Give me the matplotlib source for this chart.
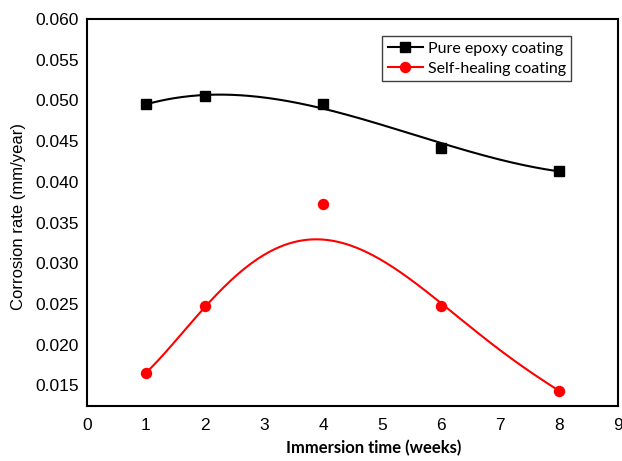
import numpy as np
import matplotlib
matplotlib.use("Agg")
import matplotlib.pyplot as plt
from matplotlib.lines import Line2D

# Data
weeks = [1, 2, 4, 6, 8]
pure_epoxy = [0.0496, 0.0506, 0.0496, 0.0442, 0.0413]
self_healing = [0.0165, 0.0248, 0.0373, 0.0248, 0.0143]

# Trend-curve values (smooth fitted lines)
trend_x = [1, 2, 3, 4, 5, 6, 7, 8]
pure_trend = [0.0496, 0.0505, 0.0503, 0.0492, 0.0471, 0.0445, 0.0428, 0.0413]
self_trend = [0.0165, 0.0248, 0.0307, 0.0331, 0.0305, 0.0248, 0.0195, 0.0143]

x_ticks = list(range(0, 10))
y_ticks = [0.015, 0.020, 0.025, 0.030, 0.035, 0.040, 0.045, 0.050, 0.055, 0.060]

fig = plt.figure(figsize=(6.22, 4.61), dpi=100)
ax = fig.add_axes([87/622, 1 - 405.7/461, (618-87)/622, (405.7-19)/461])

xs = np.linspace(1, 8, 300)
for tr, col, deg in [(pure_trend, "black", 3), (self_trend, "#ff0000", 5)]:
    coef = np.polyfit(trend_x, tr, deg)
    ax.plot(xs, np.polyval(coef, xs), color=col, lw=1.5, zorder=2)

ax.plot(weeks, pure_epoxy, ls="none", marker="s", ms=6.8, color="black", zorder=3)
ax.plot(weeks, self_healing, ls="none", marker="o", ms=7.2, color="#ff0000", zorder=3)

ax.set_xlim(0, 9)
ax.set_ylim(0.0125, 0.0600)
ax.set_xticks(x_ticks)
ax.set_xticklabels([str(t) for t in x_ticks])
ax.set_yticks(y_ticks)
ax.set_yticklabels(["%.3f" % v for v in y_ticks])
ax.tick_params(axis="both", length=0, labelsize=12.5)
ax.tick_params(axis="y", pad=6)
ax.tick_params(axis="x", pad=9)
for lab in ax.get_xticklabels() + ax.get_yticklabels():
    lab.set_fontfamily("Liberation Sans")

for s in ax.spines.values():
    s.set_linewidth(1.5)
    s.set_color("black")

ax.set_ylabel("Corrosion rate (mm/year)", fontsize=12, family="Liberation Sans")
ax.yaxis.set_label_coords(-0.115, 0.49)
ax.set_xlabel("Immersion time (weeks)", fontsize=12, family="Lato", fontweight="bold")
ax.xaxis.set_label_coords(0.539, -0.088)

handles = [
    Line2D([], [], color="black", marker="s", ms=6.8, lw=1.5),
    Line2D([], [], color="#ff0000", marker="o", ms=7.2, lw=1.5),
]
leg = ax.legend(handles, ["Pure epoxy coating", "Self-healing coating"],
                loc="upper left", bbox_to_anchor=((382-87)/531, (405.7-36)/386.7),
                frameon=True, fancybox=False, framealpha=1, edgecolor="#404040",
                prop={"family": "Lato", "size": 11.5}, handlelength=2.2,
                handletextpad=0.3, borderpad=0.35, labelspacing=0.35, borderaxespad=0)
leg.get_frame().set_linewidth(1.0)

fig.savefig("out.png", dpi=100)
